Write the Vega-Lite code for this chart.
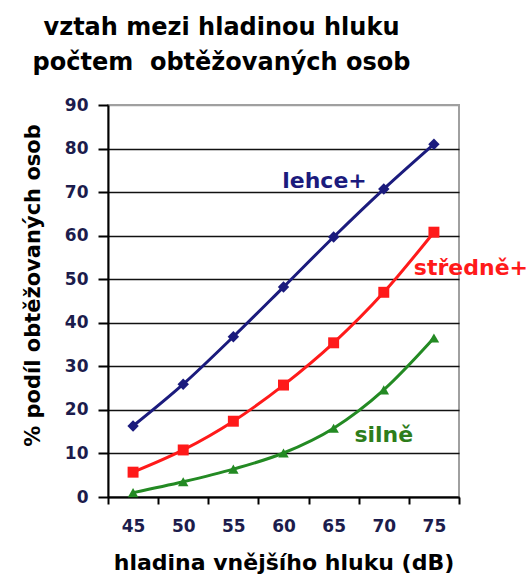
{
  "$schema": "https://vega.github.io/schema/vega-lite/v6.json",
  "autosize": {"type": "none"},
  "padding": {"left": 108, "top": 105, "right": 70, "bottom": 78},
  "width": 351,
  "height": 392,
  "background": "white",
  "title": {
    "text": ["vztah mezi hladinou hluku", "počtem\u00a0 obtěžovaných osob"],
    "font": "DejaVu Sans",
    "fontWeight": "bold",
    "fontSize": 24,
    "color": "black",
    "lineHeight": 35,
    "anchor": "middle",
    "dx": -62,
    "offset": 21
  },
  "config": {
    "view": {"stroke": "#a0a0a0", "strokeWidth": 2},
    "font": "DejaVu Sans"
  },
  "data": {
    "values": [
      {"hladina": 45, "typ": "lehce+", "podil": 16.3},
      {"hladina": 50, "typ": "lehce+", "podil": 25.9},
      {"hladina": 55, "typ": "lehce+", "podil": 36.8},
      {"hladina": 60, "typ": "lehce+", "podil": 48.2},
      {"hladina": 65, "typ": "lehce+", "podil": 59.7},
      {"hladina": 70, "typ": "lehce+", "podil": 70.7},
      {"hladina": 75, "typ": "lehce+", "podil": 81.0},
      {"hladina": 45, "typ": "středně+", "podil": 5.7},
      {"hladina": 50, "typ": "středně+", "podil": 10.8},
      {"hladina": 55, "typ": "středně+", "podil": 17.4},
      {"hladina": 60, "typ": "středně+", "podil": 25.7},
      {"hladina": 65, "typ": "středně+", "podil": 35.4},
      {"hladina": 70, "typ": "středně+", "podil": 47.0},
      {"hladina": 75, "typ": "středně+", "podil": 60.8},
      {"hladina": 45, "typ": "silně", "podil": 1.0},
      {"hladina": 50, "typ": "silně", "podil": 3.5},
      {"hladina": 55, "typ": "silně", "podil": 6.4},
      {"hladina": 60, "typ": "silně", "podil": 10.1},
      {"hladina": 65, "typ": "silně", "podil": 15.8},
      {"hladina": 70, "typ": "silně", "podil": 24.6},
      {"hladina": 75, "typ": "silně", "podil": 36.5}
    ]
  },
  "encoding": {
    "x": {
      "field": "hladina",
      "type": "ordinal",
      "scale": {"type": "band", "paddingInner": 0, "paddingOuter": 0},
      "title": "hladina vnějšího hluku (dB)",
      "axis": {
        "labelAngle": 0,
        "tickBand": "extent",
        "grid": false,
        "domainColor": "black",
        "domainWidth": 2,
        "tickColor": "black",
        "tickWidth": 2,
        "tickSize": 7,
        "labelFont": "DejaVu Sans",
        "labelFontWeight": "bold",
        "labelFontSize": 17,
        "labelColor": "#1c1c4c",
        "labelPadding": 14,
        "titleFont": "DejaVu Sans",
        "titleFontSize": 22,
        "titleFontWeight": "bold",
        "titleColor": "black",
        "titlePadding": 18
      }
    },
    "y": {
      "field": "podil",
      "type": "quantitative",
      "scale": {"domain": [0, 90], "nice": false},
      "title": "% podíl obtěžovaných osob",
      "axis": {
        "values": [0, 10, 20, 30, 40, 50, 60, 70, 80, 90],
        "grid": true,
        "gridColor": {"condition": {"test": "datum.value === 90", "value": "#a0a0a0"}, "value": "#111111"},
        "gridWidth": 1.3,
        "domainColor": "black",
        "domainWidth": 2,
        "tickColor": "black",
        "tickWidth": 2,
        "tickSize": 10,
        "labelFont": "DejaVu Sans",
        "labelFontWeight": "bold",
        "labelFontSize": 17,
        "labelColor": "#1c1c4c",
        "labelPadding": 10,
        "titleFont": "DejaVu Sans",
        "titleFontSize": 21,
        "titleFontWeight": "bold",
        "titleColor": "black",
        "titlePadding": 21,
        "titleY": 180
      }
    }
  },
  "layer": [
    {
      "mark": {"type": "line", "interpolate": "monotone", "strokeWidth": 3},
      "encoding": {
        "color": {
          "field": "typ",
          "type": "nominal",
          "scale": {"domain": ["lehce+", "středně+", "silně"], "range": ["#1b1b7d", "#ff1a1a", "#238a23"]},
          "legend": null
        }
      }
    },
    {
      "mark": {"type": "point", "filled": true, "opacity": 1, "strokeWidth": 0},
      "encoding": {
        "color": {"field": "typ", "type": "nominal", "legend": null},
        "shape": {
          "field": "typ",
          "type": "nominal",
          "scale": {"domain": ["lehce+", "středně+", "silně"], "range": ["diamond", "square", "triangle-up"]},
          "legend": null
        },
        "size": {
          "field": "typ",
          "type": "nominal",
          "scale": {"domain": ["lehce+", "středně+", "silně"], "range": [130, 110, 210]},
          "legend": null
        }
      }
    },
    {
      "data": {"values": [{"hladina": 60, "podil": 70.9, "nazev": "lehce+"}]},
      "mark": {"type": "text", "dx": 41, "baseline": "alphabetic", "align": "center", "fontSize": 22, "fontWeight": "bold", "font": "DejaVu Sans", "color": "#1b1b7d"},
      "encoding": {"text": {"field": "nazev"}}
    },
    {
      "data": {"values": [{"hladina": 75, "podil": 51.0, "nazev": "středně+"}]},
      "mark": {"type": "text", "dx": 37, "baseline": "alphabetic", "align": "center", "fontSize": 22, "fontWeight": "bold", "font": "DejaVu Sans", "color": "#ff1a1a"},
      "encoding": {"text": {"field": "nazev"}}
    },
    {
      "data": {"values": [{"hladina": 70, "podil": 12.6, "nazev": "silně"}]},
      "mark": {"type": "text", "dx": 0, "baseline": "alphabetic", "align": "center", "fontSize": 22, "fontWeight": "bold", "font": "DejaVu Sans", "color": "#2e7d1a"},
      "encoding": {"text": {"field": "nazev"}}
    }
  ]
}
